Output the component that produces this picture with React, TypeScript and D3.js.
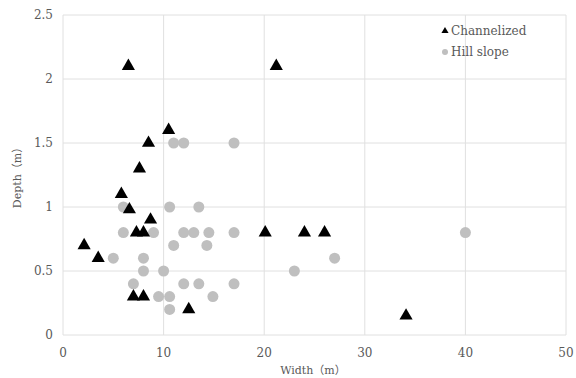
import * as d3 from "d3";
import { useEffect, useRef } from "react";

// Channelized (triangles)
const chanWidth = [6.5, 21.2, 10.5, 8.5, 7.6, 5.8, 6.6, 8.7, 7.3, 8.0, 2.1, 3.5, 7.0, 8.0, 12.5, 20.1, 24.0, 26.0, 34.1];
const chanDepth = [2.1, 2.1, 1.6, 1.5, 1.3, 1.1, 0.98, 0.9, 0.8, 0.8, 0.7, 0.6, 0.3, 0.3, 0.2, 0.8, 0.8, 0.8, 0.15];

// Hill slope (circles)
const hillWidth = [11, 12, 17, 6, 10.6, 13.5, 6, 9, 12, 13, 14.5, 17, 40, 11, 14.3, 5, 8, 27, 8, 10, 23, 7, 12, 13.5, 17, 9.5, 10.6, 14.9, 10.6];
const hillDepth = [1.5, 1.5, 1.5, 1.0, 1.0, 1.0, 0.8, 0.8, 0.8, 0.8, 0.8, 0.8, 0.8, 0.7, 0.7, 0.6, 0.6, 0.6, 0.5, 0.5, 0.5, 0.4, 0.4, 0.4, 0.4, 0.3, 0.3, 0.3, 0.2];

const xTicks = [0, 10, 20, 30, 40, 50];
const yTicks = [0, 0.5, 1, 1.5, 2, 2.5];
const seriesNames = ["Channelized", "Hill slope"];

const W = 576;
const H = 378;
const margin = { top: 15, right: 10, bottom: 43, left: 63 };
const FONT = "'DejaVu Serif', 'Noto Sans CJK JP', serif";
const TEXT = "#595959";

const App = () => {
  const ref = useRef<SVGSVGElement>(null);

  useEffect(() => {
    const svg = d3.select(ref.current);
    svg.selectAll("*").remove();

    const x = d3.scaleLinear().domain([0, 50]).range([margin.left, W - margin.right - 0]);
    const y = d3.scaleLinear().domain([0, 2.5]).range([H - margin.bottom, margin.top]);

    // сетка
    svg.append("g")
      .selectAll("line.h")
      .data(yTicks)
      .enter()
      .append("line")
        .attr("x1", x(0)).attr("x2", x(50))
        .attr("y1", d => y(d)).attr("y2", d => y(d))
        .attr("stroke", "#e0e0e0").attr("stroke-width", 1);

    svg.append("g")
      .selectAll("line.v")
      .data(xTicks)
      .enter()
      .append("line")
        .attr("y1", y(0)).attr("y2", y(2.5))
        .attr("x1", d => x(d)).attr("x2", d => x(d))
        .attr("stroke", "#e0e0e0").attr("stroke-width", 1);

    // подписи осей
    svg.append("g")
      .selectAll("text")
      .data(xTicks)
      .enter()
      .append("text")
        .attr("x", d => x(d))
        .attr("y", y(0) + 22)
        .attr("text-anchor", "middle")
        .style("font-family", FONT).style("font-size", "12px").style("fill", TEXT)
        .text(d => d);

    svg.append("g")
      .selectAll("text")
      .data(yTicks)
      .enter()
      .append("text")
        .attr("x", x(0) - 10)
        .attr("y", d => y(d) + 4)
        .attr("text-anchor", "end")
        .style("font-family", FONT).style("font-size", "12px").style("fill", TEXT)
        .text(d => d);

    svg.append("text")
      .attr("x", 313).attr("y", 374)
      .attr("text-anchor", "middle")
      .style("font-family", FONT).style("font-size", "11px").style("fill", TEXT)
      .text("Width（m）");

    svg.append("text")
      .attr("transform", `translate(21,${(y(0) + y(2.5)) / 2}) rotate(-90)`)
      .attr("text-anchor", "middle")
      .style("font-family", FONT).style("font-size", "11px").style("fill", TEXT)
      .text("Depth（m）");

    const tri = d3.symbol().type(d3.symbolTriangle).size(75);

    // точки
    svg.append("g")
      .selectAll("circle")
      .data(hillWidth.map((w, i) => ({ w, d: hillDepth[i] })))
      .enter()
      .append("circle")
        .attr("cx", p => x(p.w))
        .attr("cy", p => y(p.d))
        .attr("r", 5.5)
        .style("fill", "#bfbfbf");

    svg.append("g")
      .selectAll("path")
      .data(chanWidth.map((w, i) => ({ w, d: chanDepth[i] })))
      .enter()
      .append("path")
        .attr("d", tri)
        .attr("transform", p => `translate(${x(p.w)},${y(p.d)})`)
        .style("fill", "#000");

    // легенда
    const lg = svg.append("g").attr("transform", "translate(445,0)");
    lg.append("path")
      .attr("d", d3.symbol().type(d3.symbolTriangle).size(22))
      .attr("transform", "translate(0,31)")
      .style("fill", "#000");
    lg.append("circle").attr("cx", 0).attr("cy", 52).attr("r", 3).style("fill", "#bfbfbf");
    seriesNames.forEach((name, i) => {
      lg.append("text")
        .attr("x", 6).attr("y", 35 + i * 21)
        .style("font-family", FONT).style("font-size", "12px").style("fill", TEXT)
        .text(name);
    });
  }, []);

  return (
    <svg ref={ref} width={W} height={H} style={{ position: "absolute", left: 0, top: 0, background: "#fff" }}></svg>
  );
};

export default App;
